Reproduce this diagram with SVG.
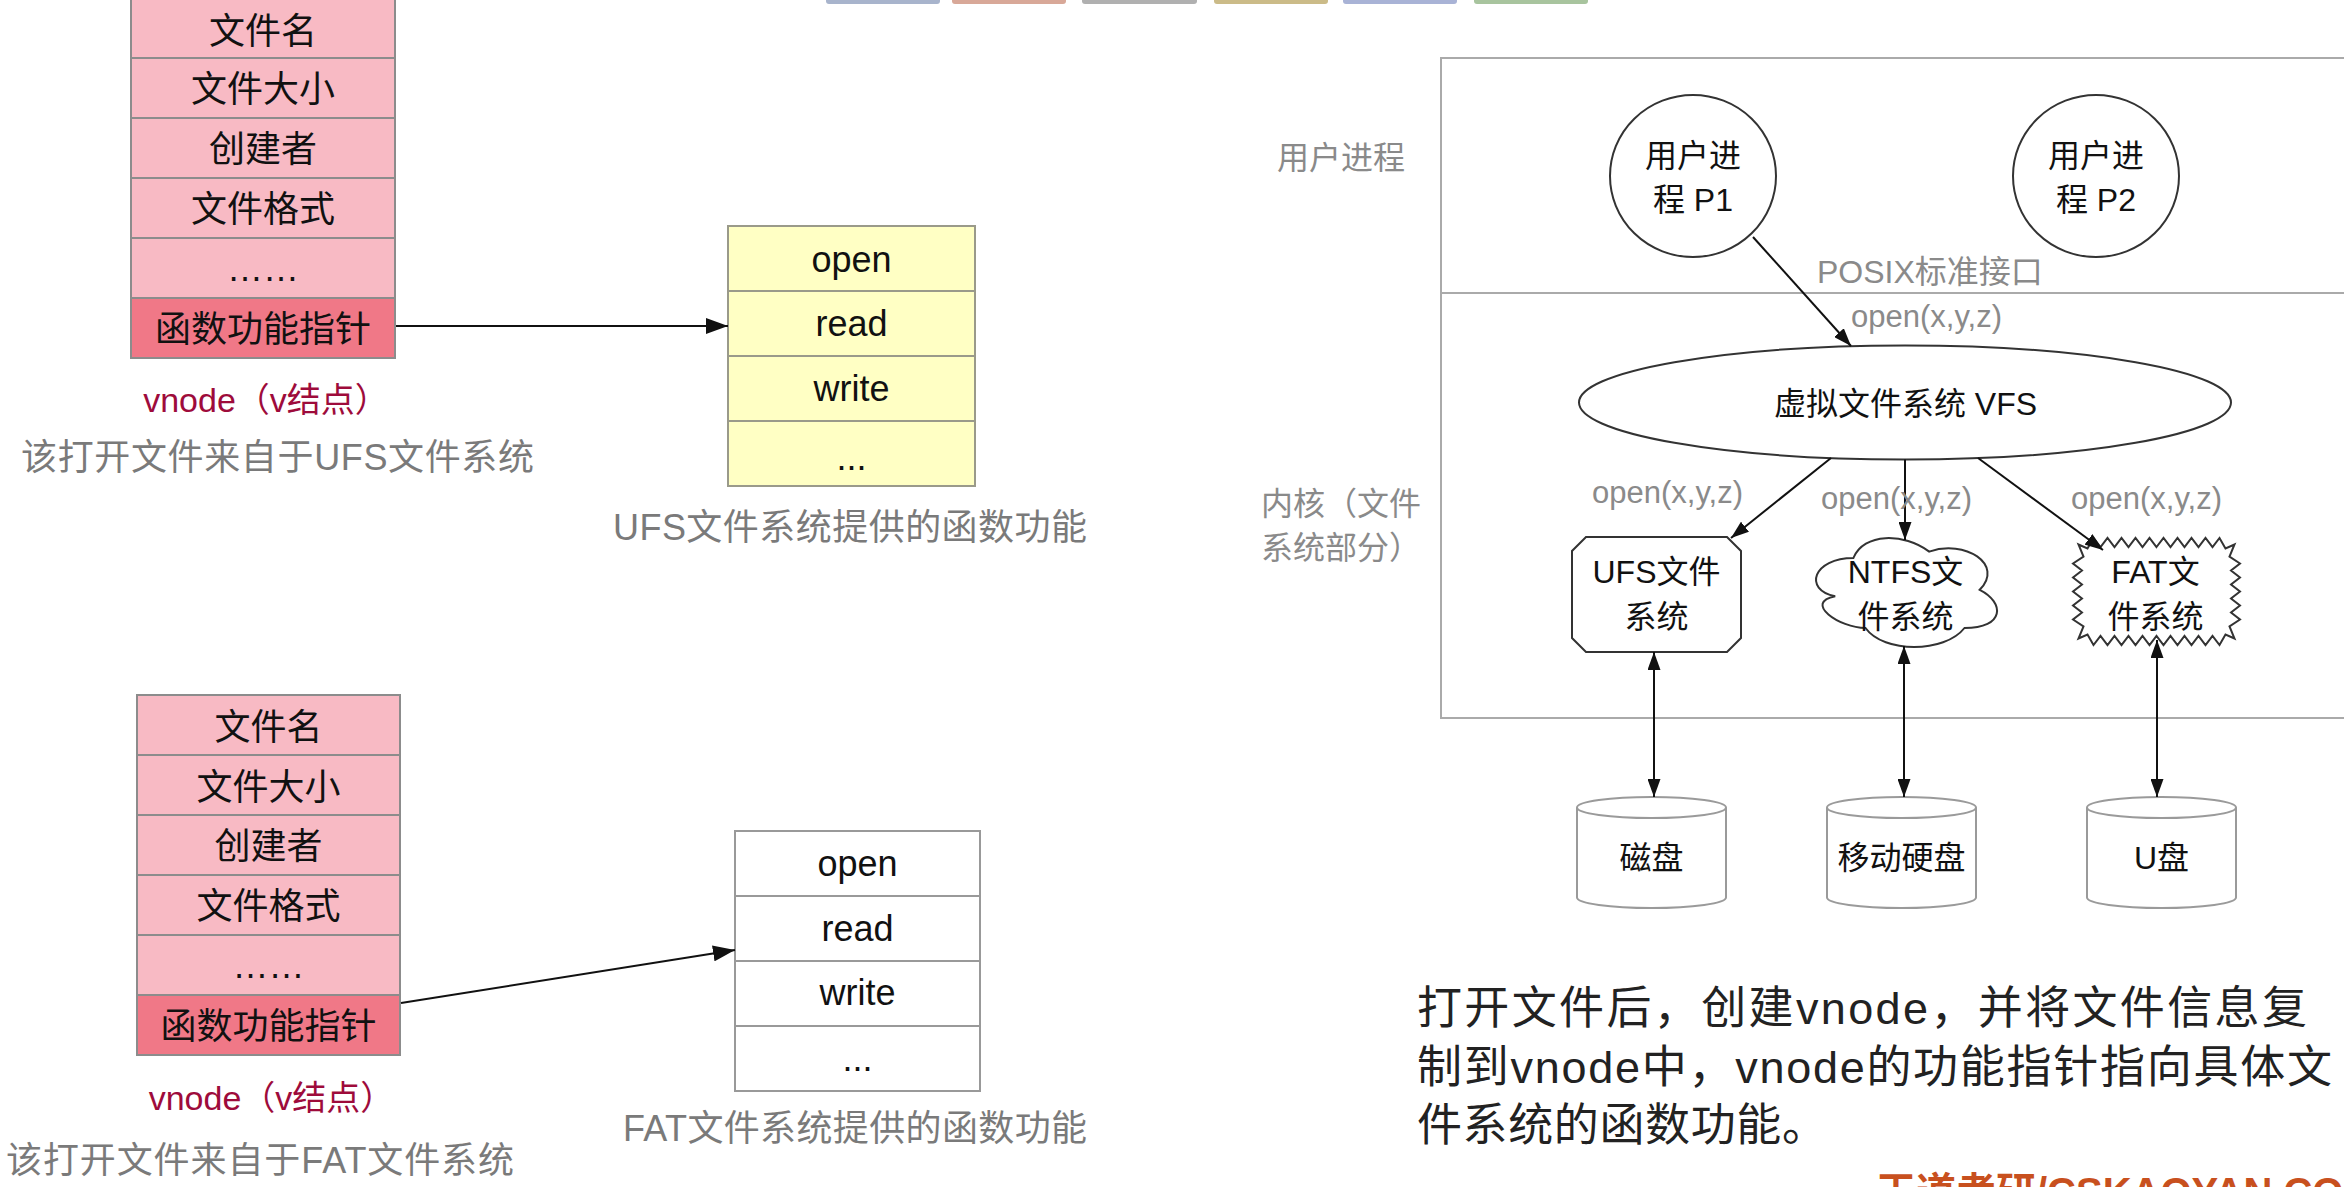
<svg xmlns="http://www.w3.org/2000/svg" width="2344" height="1187" viewBox="0 0 2344 1187">
<style>
text{font-family:'Liberation Sans','Noto Sans CJK SC',sans-serif}
.pk{fill:#F8BAC4;stroke:#8c8c8c;stroke-width:2}
.pkd{fill:#F07887;stroke:#8c8c8c;stroke-width:2}
.yl{fill:#FFFFC4;stroke:#9a9a8a;stroke-width:2}
.wh{fill:#ffffff;stroke:#999;stroke-width:2}
.lt{font-size:36px;fill:#111;text-anchor:middle}
.cap{font-size:36px;fill:#7a7a7a}
.vn{font-size:34px;fill:#9e0b3b;text-anchor:middle}
.rt{font-size:32px;fill:#111;text-anchor:middle}
.gl{font-size:32px;fill:#8a8a8a}
.op{font-size:31px;fill:#8a8a8a}
.shp{fill:#fff;stroke:#333;stroke-width:2}
.disk{fill:#fff;stroke:#9a9a9a;stroke-width:2}
.frame{fill:none;stroke:#aaa;stroke-width:2}
.conn{stroke:#111;stroke-width:2;fill:none}
.para{font-size:45px;fill:#222}
</style>
<defs>
<marker id="aL" markerUnits="userSpaceOnUse" markerWidth="22" markerHeight="16" refX="22" refY="8" orient="auto"><path d="M0,0 L22,8 L0,16 z" fill="#111"/></marker>
<marker id="aR" markerUnits="userSpaceOnUse" markerWidth="18" markerHeight="13" refX="18" refY="6.5" orient="auto-start-reverse"><path d="M0,0 L18,6.5 L0,13 z" fill="#111"/></marker>
</defs>

<g id="topbars">
<rect x="826" y="-8" width="114" height="12" rx="3" fill="#a8b4cc"/>
<rect x="952" y="-8" width="114" height="12" rx="3" fill="#d8a898"/>
<rect x="1082" y="-8" width="115" height="12" rx="3" fill="#b0b0b0"/>
<rect x="1214" y="-8" width="114" height="12" rx="3" fill="#cbbb88"/>
<rect x="1343" y="-8" width="114" height="12" rx="3" fill="#a9b3d6"/>
<rect x="1474" y="-8" width="114" height="12" rx="3" fill="#a8c49e"/>
</g>

<g id="vnode-ufs">
<rect class="pk" x="131" y="-2" width="264" height="60"/>
<rect class="pk" x="131" y="58" width="264" height="60"/>
<rect class="pk" x="131" y="118" width="264" height="60"/>
<rect class="pk" x="131" y="178" width="264" height="60"/>
<rect class="pk" x="131" y="238" width="264" height="60"/>
<rect class="pkd" x="131" y="298" width="264" height="60"/>
<text class="lt" x="263" y="44">文件名</text>
<text class="lt" x="263" y="102">文件大小</text>
<text class="lt" x="263" y="162">创建者</text>
<text class="lt" x="263" y="222">文件格式</text>
<text class="lt" x="263" y="281">……</text>
<text class="lt" x="263" y="342">函数功能指针</text>
<text class="vn" x="266" y="412">vnode（v结点）</text>
<text class="cap" x="21" y="470" textLength="513">该打开文件来自于UFS文件系统</text>
</g>

<g id="ufs-funcs">
<rect class="yl" x="728" y="226" width="247" height="65"/>
<rect class="yl" x="728" y="291" width="247" height="65"/>
<rect class="yl" x="728" y="356" width="247" height="65"/>
<rect class="yl" x="728" y="421" width="247" height="65"/>
<text class="lt" x="851.5" y="272">open</text>
<text class="lt" x="851.5" y="336">read</text>
<text class="lt" x="851.5" y="401">write</text>
<text class="lt" x="851.5" y="470">...</text>
<text class="cap" x="613" y="540" textLength="474">UFS文件系统提供的函数功能</text>
</g>

<g id="vnode-fat">
<rect class="pk" x="137" y="695" width="263" height="60"/>
<rect class="pk" x="137" y="755" width="263" height="60"/>
<rect class="pk" x="137" y="815" width="263" height="60"/>
<rect class="pk" x="137" y="875" width="263" height="60"/>
<rect class="pk" x="137" y="935" width="263" height="60"/>
<rect class="pkd" x="137" y="995" width="263" height="60"/>
<text class="lt" x="268.5" y="740">文件名</text>
<text class="lt" x="268.5" y="800">文件大小</text>
<text class="lt" x="268.5" y="859">创建者</text>
<text class="lt" x="268.5" y="919">文件格式</text>
<text class="lt" x="268.5" y="978">……</text>
<text class="lt" x="268.5" y="1039">函数功能指针</text>
<text class="vn" x="271.5" y="1110">vnode（v结点）</text>
<text class="cap" x="6" y="1173" textLength="508">该打开文件来自于FAT文件系统</text>
</g>

<g id="fat-funcs">
<rect class="wh" x="735" y="831" width="245" height="65"/>
<rect class="wh" x="735" y="896" width="245" height="65"/>
<rect class="wh" x="735" y="961" width="245" height="65"/>
<rect class="wh" x="735" y="1026" width="245" height="65"/>
<text class="lt" x="857.5" y="876">open</text>
<text class="lt" x="857.5" y="941">read</text>
<text class="lt" x="857.5" y="1005">write</text>
<text class="lt" x="857.5" y="1071">...</text>
<text class="cap" x="623" y="1141" textLength="464">FAT文件系统提供的函数功能</text>
</g>

<g id="frame">
<rect class="frame" x="1441" y="58" width="1000" height="660"/>
<line class="frame" x1="1441" y1="293" x2="2344" y2="293"/>
<text class="gl" x="1277" y="169">用户进程</text>
<text class="gl" x="1261" y="515">内核（文件</text>
<text class="gl" x="1261" y="559">系统部分）</text>
</g>

<g id="p1">
<ellipse class="shp" cx="1693" cy="176" rx="83" ry="81"/>
<text class="rt" x="1693" y="167">用户进</text>
<text class="rt" x="1693" y="211">程 P1</text>
</g>
<g id="p2">
<ellipse class="shp" cx="2096" cy="176" rx="83" ry="81"/>
<text class="rt" x="2096" y="167">用户进</text>
<text class="rt" x="2096" y="211">程 P2</text>
</g>

<g id="vfs">
<ellipse class="shp" cx="1905" cy="402.5" rx="326" ry="57"/>
<text class="rt" x="1905.5" y="415">虚拟文件系统 VFS</text>
</g>

<g id="ufs">
<polygon class="shp" points="1586,537 1727,537 1741,551 1741,638 1727,652 1586,652 1572,638 1572,551"/>
<text class="rt" x="1656.5" y="583">UFS文件</text>
<text class="rt" x="1656.5" y="628">系统</text>
</g>

<g id="ntfs">
<path class="shp" d="M1853.4,558 C1813,558 1802.9,589.8 1835.2,596.2 C1802.9,602.5 1839.3,628 1865.5,628 C1883.7,653.4 1944.3,653.4 1964.5,628 C2004.9,628 2004.9,602.5 1979.7,589.8 C2004.9,564.4 1964.5,538.9 1929.2,551.6 C1903.9,532.6 1863.5,532.6 1853.4,558 Z"/>
<text class="rt" x="1905.5" y="583">NTFS文</text>
<text class="rt" x="1905.5" y="628">件系统</text>
</g>

<g id="fat">
<polygon class="shp" transform="translate(2156.5 591.5)" points="0,-44.5 7,-53.5 14,-44.5 21,-53.5 28,-44.5 35,-53.5 42,-44.5 49,-53.5 56,-44.5 63,-53.5 69,-43 78,-47 73,-35 83.5,-28 74.5,-21 83.5,-14 74.5,-7 83.5,0 74.5,7 83.5,14 74.5,21 83.5,28 73,35 78,47 69,43 63,53.5 56,44.5 49,53.5 42,44.5 35,53.5 28,44.5 21,53.5 14,44.5 7,53.5 0,44.5 -7,53.5 -14,44.5 -21,53.5 -28,44.5 -35,53.5 -42,44.5 -49,53.5 -56,44.5 -63,53.5 -69,43 -78,47 -73,35 -83.5,28 -74.5,21 -83.5,14 -74.5,7 -83.5,0 -74.5,-7 -83.5,-14 -74.5,-21 -83.5,-28 -73,-35 -78,-47 -69,-43 -63,-53.5 -56,-44.5 -49,-53.5 -42,-44.5 -35,-53.5 -28,-44.5 -21,-53.5 -14,-44.5 -7,-53.5"/>
<text class="rt" x="2155.5" y="583">FAT文</text>
<text class="rt" x="2155.5" y="628">件系统</text>
</g>

<g id="disk1">
<path class="disk" d="M1577,807.5 L1577,897.5 A74.5,10.5 0 0 0 1726,897.5 L1726,807.5"/>
<ellipse class="disk" cx="1651.5" cy="807.5" rx="74.5" ry="10.5"/>
<text class="rt" x="1651.5" y="869">磁盘</text>
</g>
<g id="disk2">
<path class="disk" d="M1827,807.5 L1827,897.5 A74.5,10.5 0 0 0 1976,897.5 L1976,807.5"/>
<ellipse class="disk" cx="1901.5" cy="807.5" rx="74.5" ry="10.5"/>
<text class="rt" x="1901.5" y="869">移动硬盘</text>
</g>
<g id="disk3">
<path class="disk" d="M2087,807.5 L2087,897.5 A74.5,10.5 0 0 0 2236,897.5 L2236,807.5"/>
<ellipse class="disk" cx="2161.5" cy="807.5" rx="74.5" ry="10.5"/>
<text class="rt" x="2161.5" y="869">U盘</text>
</g>

<g id="connectors">
<line class="conn" x1="396" y1="326" x2="728" y2="326" marker-end="url(#aL)"/>
<line class="conn" x1="401" y1="1003" x2="735" y2="950" marker-end="url(#aL)"/>
<line class="conn" x1="1753" y1="237" x2="1851" y2="346" marker-end="url(#aR)"/>
<line class="conn" x1="1831" y1="458" x2="1731" y2="538" marker-end="url(#aR)"/>
<line class="conn" x1="1905" y1="459.5" x2="1905" y2="540" marker-end="url(#aR)"/>
<line class="conn" x1="1978" y1="458" x2="2103" y2="550" marker-end="url(#aR)"/>
<line class="conn" x1="1654" y1="652" x2="1654" y2="797" marker-start="url(#aR)" marker-end="url(#aR)"/>
<line class="conn" x1="1904" y1="646" x2="1904" y2="797" marker-start="url(#aR)" marker-end="url(#aR)"/>
<line class="conn" x1="2157" y1="640" x2="2157" y2="797" marker-start="url(#aR)" marker-end="url(#aR)"/>
<text class="gl" x="1817" y="283">POSIX标准接口</text>
<text class="op" x="1851" y="327">open(x,y,z)</text>
<text class="op" x="1592" y="503">open(x,y,z)</text>
<text class="op" x="1821" y="509">open(x,y,z)</text>
<text class="op" x="2071" y="509">open(x,y,z)</text>
</g>

<g id="note">
<text class="para" x="1417" y="1024" textLength="890">打开文件后，创建vnode，并将文件信息复</text>
<text class="para" x="1417" y="1083" textLength="915">制到vnode中，vnode的功能指针指向具体文</text>
<text class="para" x="1417" y="1141" textLength="410">件系统的函数功能。</text>
<text x="1876" y="1206" font-size="40" fill="#c8501e" font-weight="bold">王道考研/CSKAOYAN.COM</text>
</g>
</svg>
